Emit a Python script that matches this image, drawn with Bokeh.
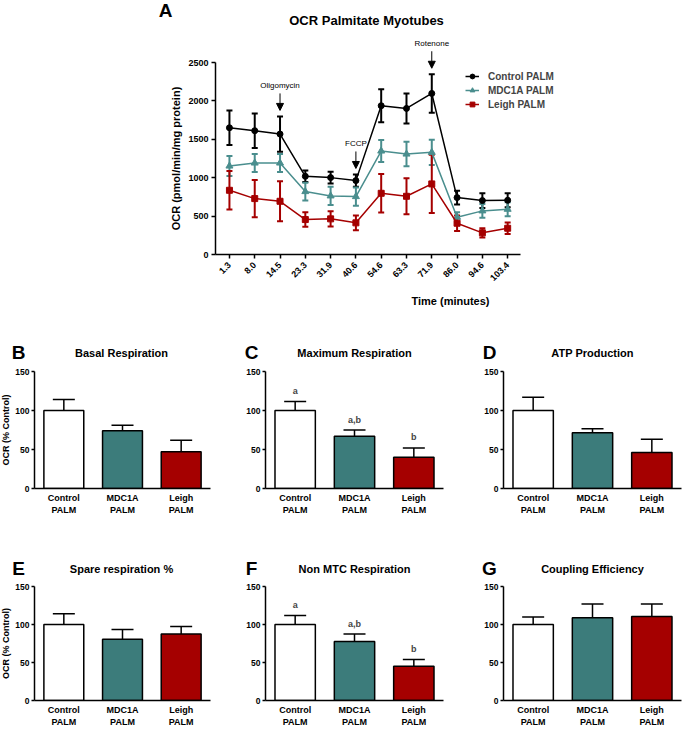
import numpy as np
from bokeh.plotting import figure
from bokeh.models import (ColumnDataSource, Range1d, FixedTicker, Whisker, TeeHead,
                          Label, Arrow, NormalHead, Legend, LegendItem)
from bokeh.layouts import column, row
from bokeh.embed import file_html
from bokeh.resources import INLINE

FONT = "Liberation Sans"

# ---------------- data: time course ----------------
time_labels = ["1.3", "8.0", "14.5", "23.3", "31.9", "40.6", "54.6", "63.3", "71.9", "86.0", "94.6", "103.4"]
control_mean = [1650, 1612, 1568, 1018, 1001, 962, 1937, 1902, 2097, 741, 702, 706]
control_sem = [225, 225, 230, 75, 78, 80, 215, 195, 250, 90, 95, 90]
mdc1a_mean = [1152, 1191, 1191, 819, 763, 754, 1347, 1308, 1330, 485, 568, 589]
mdc1a_sem = [130, 117, 117, 115, 120, 120, 143, 160, 165, 65, 90, 90]
leigh_mean = [836, 728, 693, 455, 464, 412, 797, 758, 919, 407, 282, 342]
leigh_sem = [250, 243, 260, 95, 100, 95, 250, 235, 380, 100, 60, 75]
series_names = ["Control PALM", "MDC1A PALM", "Leigh PALM"]
injection_names = ["Oligomycin", "FCCP", "Rotenone"]
injection_index = [2, 5, 8]
y_ticks_top = [0, 500, 1000, 1500, 2000, 2500]

# ---------------- data: bar panels ----------------
groups = ["Control\nPALM", "MDC1A\nPALM", "Leigh\nPALM"]
basal_mean = [100, 74, 47]
basal_sem = [14, 7, 15]
max_mean = [100, 67, 40]
max_sem = [11.5, 8, 12]
max_sig = ["a", "a,b", "b"]
atp_mean = [100, 71.5, 46]
atp_sem = [17, 5, 17]
spare_mean = [100, 80.5, 87.5]
spare_sem = [14, 13, 10]
nonmtc_mean = [100, 77.5, 45]
nonmtc_sem = [12, 10, 9]
nonmtc_sig = ["a", "a,b", "b"]
coupling_mean = [100, 109, 110.5]
coupling_sem = [10, 18, 16.5]
y_ticks_bar = [0, 50, 100, 150]

LINE_COLORS = ["#000000", "#4a8e8e", "#a50000"]
BAR_COLORS = ["#ffffff", "#3c7c7b", "#a50000"]

W = 685


def style_axes(p):
    p.outline_line_color = None
    p.xgrid.visible = False
    p.ygrid.visible = False
    for ax in (p.xaxis[0], p.yaxis[0]):
        ax.axis_line_width = 1.5
        ax.axis_line_color = "black"
        ax.major_tick_line_width = 1.5
        ax.major_tick_line_color = "black"
        ax.minor_tick_line_color = None
        ax.major_tick_in = 0
        ax.major_label_text_font = FONT
        ax.major_label_text_font_style = "bold"
        ax.major_label_text_color = "black"
        ax.axis_label_text_font = FONT
        ax.axis_label_text_font_style = "bold"
        ax.axis_label_text_color = "black"


def text_strip(width, height, labels, angle=0.0, y_range=None):
    """A blank strip holding free texts. Without y_range, y is pixels from its top."""
    yr = y_range if y_range is not None else Range1d(height, 0)
    h = figure(width=width, height=height, x_range=Range1d(0, width), y_range=yr,
               output_backend="svg", toolbar_location=None,
               min_border_left=0, min_border_right=0, min_border_top=0, min_border_bottom=0)
    h.axis.visible = False
    h.xgrid.visible = False
    h.ygrid.visible = False
    h.outline_line_color = None
    for x, y, text, size in labels:
        h.add_layout(Label(x=x, y=y, text=text, text_font=FONT, text_font_style="bold",
                           text_font_size=size, text_align="center", text_baseline="middle",
                           text_color="black", angle=angle))
    return h


# ---------------- top chart ----------------
TOP_AXIS_X = 213       # absolute x of the y axis
TOP_LAB_W = 185        # strip holding the rotated y-axis title
TOP_BL = TOP_AXIS_X - TOP_LAB_W
HEAD0_H = 30
FRAME_H = 224
TOP_H = FRAME_H + 58
PX_X = 25.4            # px per time-point step
PX_Y = 192.0 / 2500.0  # px per OCR unit
x_start = -14.0 / PX_X
x_end = x_start + (W - TOP_AXIS_X) / PX_X
y_end = FRAME_H / PX_Y
axis_x_end = len(time_labels) - 0.5

top = figure(width=W - TOP_LAB_W, height=TOP_H, x_range=Range1d(x_start, x_end),
             y_range=Range1d(0, y_end), output_backend="svg", toolbar_location=None,
             min_border_left=TOP_BL, min_border_right=0, min_border_top=0,
             min_border_bottom=TOP_H - FRAME_H)
style_axes(top)
xi = list(range(len(time_labels)))
top.xaxis.ticker = FixedTicker(ticks=xi)
top.xaxis.major_label_overrides = {i: t for i, t in enumerate(time_labels)}
top.xaxis.major_label_orientation = np.pi / 4
top.xaxis.bounds = (x_start, axis_x_end)
top.xaxis.major_tick_out = 4
top.xaxis.major_label_text_font_size = "9px"
top.xaxis.axis_label = "Time (minutes)"
top.xaxis.axis_label_text_font_size = "11px"
top.xaxis.axis_label_standoff = 8
top.yaxis.ticker = FixedTicker(ticks=y_ticks_top)
top.yaxis.bounds = (0, 2500)
top.yaxis.major_tick_out = 4
top.yaxis.major_label_text_font_size = "9px"
top.yaxis.major_label_standoff = 3

markers = ["circle", "triangle", "square"]
marker_sizes = [6, 7, 6]
items = []
for name, mean, sem, col, mk, ms in zip(series_names, [control_mean, mdc1a_mean, leigh_mean],
                                         [control_sem, mdc1a_sem, leigh_sem], LINE_COLORS, markers, marker_sizes):
    src = ColumnDataSource(dict(x=xi, y=mean,
                                upper=[m + s for m, s in zip(mean, sem)],
                                lower=[m - s for m, s in zip(mean, sem)]))
    wk = Whisker(source=src, base="x", upper="upper", lower="lower",
                 line_color=col, line_width=2,
                 upper_head=TeeHead(size=6, line_color=col, line_width=2),
                 lower_head=TeeHead(size=6, line_color=col, line_width=2))
    top.add_layout(wk)
    ln = top.line("x", "y", source=src, line_color=col, line_width=1.5)
    sc = top.scatter("x", "y", source=src, marker=mk, size=ms, fill_color=col, line_color=col)
    items.append(LegendItem(label=name, renderers=[ln, sc]))

legend = Legend(items=items, location=(250, 144), glyph_width=14, glyph_height=12,
                label_height=12, spacing=2, padding=0, margin=0, label_standoff=9,
                label_text_font=FONT, label_text_font_style="bold", label_text_font_size="10px",
                background_fill_alpha=0, border_line_color=None)
top.add_layout(legend)

for name, idx in zip(injection_names, injection_index):
    tip = control_mean[idx] + control_sem[idx] + 6 / PX_Y
    start = tip + 17 / PX_Y
    top.add_layout(Arrow(x_start=idx, y_start=start, x_end=idx, y_end=tip, line_width=1,
                         line_color="black",
                         end=NormalHead(size=7, fill_color="black", line_color="black")))
    top.add_layout(Label(x=idx, y=start + 3 / PX_Y, text=name, text_font=FONT,
                         text_font_size="8px", text_align="center", text_baseline="bottom",
                         text_color="black"))

axis_center_px = TOP_AXIS_X + (axis_x_end - x_start) * PX_X / 2
head0 = text_strip(W, HEAD0_H, [(TOP_AXIS_X - 48, 10, "A", "19px"),
                                (axis_center_px, 20, "OCR Palmitate Myotubes", "13px")])
# y-axis title: shares the chart's OCR scale, centred on the drawn axis (0..2500)
top_ylab = text_strip(TOP_LAB_W, TOP_H,
                      [(TOP_LAB_W - 10, (y_ticks_top[0] + y_ticks_top[-1]) / 2,
                        "OCR (pmol/min/mg protein)", "11px")],
                      angle=np.pi / 2, y_range=Range1d(0, y_end))

# ---------------- bar panels ----------------
BAR_FRAME_H = 118
BAR_LAB_W = 12
# (column width, border left, border right) in absolute pixels
panel_geom = [(237, 32, 27), (238, 28, 32), (210, 28, 4)]


def bar_panel(means, sems, sig, width, bl, br, bt, bb):
    height = bt + BAR_FRAME_H + bb
    p = figure(width=width, height=height, x_range=Range1d(-0.5, 2.5), y_range=Range1d(0, 150),
               output_backend="svg", toolbar_location=None,
               min_border_left=bl, min_border_right=br, min_border_top=bt, min_border_bottom=bb)
    style_axes(p)
    xs = [0, 1, 2]
    p.vbar(x=xs, top=means, width=0.68, fill_color=BAR_COLORS, line_color="black", line_width=1.5)
    src = ColumnDataSource(dict(x=xs, upper=[m + s for m, s in zip(means, sems)],
                                lower=[m - s for m, s in zip(means, sems)]))
    p.add_layout(Whisker(source=src, base="x", upper="upper", lower="lower",
                         line_color="black", line_width=1.5,
                         upper_head=TeeHead(size=22, line_color="black", line_width=1.5),
                         lower_head=TeeHead(size=22, line_color="black", line_width=1.5)))
    if sig is not None:
        for x, m, s, t in zip(xs, means, sems, sig):
            p.add_layout(Label(x=x, y=m + s + 7, text=t, text_font=FONT, text_font_style="bold",
                               text_font_size="9px", text_align="center", text_baseline="bottom"))
    p.xaxis.ticker = FixedTicker(ticks=xs)
    p.xaxis.major_label_overrides = {i: g for i, g in enumerate(groups)}
    p.xaxis.major_tick_out = 0
    p.xaxis.major_label_standoff = 4
    p.xaxis.major_label_text_font_size = "9px"
    p.yaxis.ticker = FixedTicker(ticks=y_ticks_bar)
    p.yaxis.major_tick_out = 3
    p.yaxis.major_label_standoff = 2
    p.yaxis.major_label_text_font_size = "8.5px"
    return p


def bar_row(data, bt, bb):
    figs = []
    height = bt + BAR_FRAME_H + bb
    figs.append(text_strip(BAR_LAB_W, height,
                           [(5, (y_ticks_bar[0] + y_ticks_bar[-1]) / 2, "OCR (% Control)", "9px")],
                           angle=np.pi / 2, y_range=Range1d(y_ticks_bar[0], y_ticks_bar[-1])))
    for k, ((width, bl, br), (means, sems, sig)) in enumerate(zip(panel_geom, data)):
        if k == 0:
            width, bl = width - BAR_LAB_W, bl - BAR_LAB_W
        figs.append(bar_panel(means, sems, sig, width, bl, br, bt, bb))
    return row(*figs)


def header_labels(letters, titles, y):
    out = []
    left = 0
    for (width, bl, br), letter, title in zip(panel_geom, letters, titles):
        frame_l = left + bl
        frame_r = left + width - br
        out.append((frame_l - 14, y, letter, "19px"))
        out.append(((frame_l + frame_r) / 2, y, title, "11px"))
        left += width
    return out


head1 = text_strip(W, 53, header_labels(["B", "C", "D"],
                                        ["Basal Respiration", "Maximum Respiration", "ATP Production"], 40))
row1 = bar_row([(basal_mean, basal_sem, None), (max_mean, max_sem, max_sig), (atp_mean, atp_sem, None)], 6, 28)

head2 = text_strip(W, 63, header_labels(["E", "F", "G"],
                                        ["Spare respiration %", "Non MTC Respiration", "Coupling Efficiency"], 51))
row2 = bar_row([(spare_mean, spare_sem, None), (nonmtc_mean, nonmtc_sem, nonmtc_sig),
                (coupling_mean, coupling_sem, None)], 6, 25)

layout = column(row(head0), row(top_ylab, top), row(head1), row1, row(head2), row2)
open("out.html", "w").write(file_html(layout, INLINE))
